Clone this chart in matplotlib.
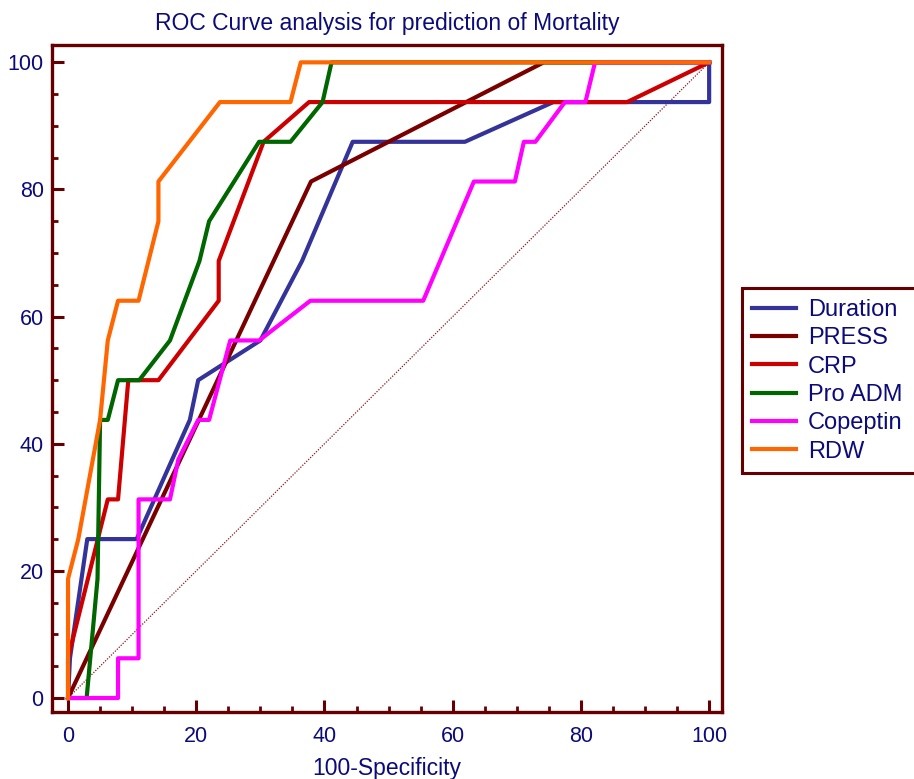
import matplotlib
matplotlib.use("Agg")
import matplotlib.pyplot as plt

# ============================================
# 1. DATA
# ============================================
duration_x = [0, 0.3, 3.0, 10.7, 19.0, 20.3, 30.0, 36.5, 44.4, 61.9, 75.7, 100, 100]
duration_y = [0, 6.25, 25, 25, 43.75, 50, 56.25, 68.75, 87.5, 87.5, 93.75, 93.75, 100]

press_x = [0, 37.9, 74.2, 100]
press_y = [0, 81.25, 100, 100]

crp_x = [0, 0, 6.2, 7.8, 9.4, 14.1, 23.5, 23.5, 30.5, 37.6, 87.2, 100]
crp_y = [0, 6.25, 31.25, 31.25, 50, 50, 62.5, 68.75, 87.5, 93.75, 93.75, 100]

proadm_x = [0, 2.9, 4.6, 5.0, 6.2, 7.8, 11.1, 15.9, 20.5, 22.0, 29.8, 34.7, 39.7, 41.1, 100]
proadm_y = [0, 0, 18.75, 43.75, 43.75, 50, 50, 56.25, 68.75, 75, 87.5, 87.5, 93.75, 100, 100]

copeptin_x = [0, 7.8, 7.8, 11.0, 11.0, 15.9, 17.2, 20.3, 22.0, 25.3, 29.8, 37.8, 55.4,
              63.3, 69.7, 71.1, 72.9, 77.5, 80.7, 82.2, 100]
copeptin_y = [0, 0, 6.25, 6.25, 31.25, 31.25, 37.5, 43.75, 43.75, 56.25, 56.25, 62.5, 62.5,
              81.25, 81.25, 87.5, 87.5, 93.75, 93.75, 100, 100]

rdw_x = [0, 0, 1.6, 5.0, 6.2, 7.8, 11.0, 14.1, 14.1, 23.7, 34.7, 36.3, 100]
rdw_y = [0, 18.75, 25, 43.75, 56.25, 62.5, 62.5, 75, 81.25, 93.75, 93.75, 100, 100]

series_names = ["Duration", "PRESS", "CRP", "Pro ADM", "Copeptin", "RDW"]
series_x = [duration_x, press_x, crp_x, proadm_x, copeptin_x, rdw_x]
series_y = [duration_y, press_y, crp_y, proadm_y, copeptin_y, rdw_y]
series_colors = ["#333399", "#7a0000", "#cc0000", "#006600", "#ff00ff", "#ff6600"]

tick_values = [0, 20, 40, 60, 80, 100]

frame_color = "#660000"
text_color = "#0b0b7a"

# ============================================
# 2. FIGURE
# ============================================
plt.rcParams["font.family"] = ["Liberation Sans", "DejaVu Sans"]

fig = plt.figure(figsize=(9.14, 7.79), dpi=100)
ax = fig.add_axes([0.0569, 0.086, 0.733, 0.856])

# reference diagonal
ax.plot([0, 100], [0, 100], color="#8b1a1a", lw=0.9, ls=(0, (1, 1.2)), zorder=1)

for name, xs, ys, col in zip(series_names, series_x, series_y, series_colors):
    ax.plot(xs, ys, color=col, lw=3.0, label=name, zorder=2)

ax.set_xlim(-2.5, 102)
ax.set_ylim(-2.2, 102.7)

ax.set_xticks(tick_values)
ax.set_yticks(tick_values)
ax.set_xticks(range(5, 100, 5), minor=True)
ax.set_yticks(range(5, 100, 5), minor=True)

ax.tick_params(which="major", direction="in", length=8.5, width=2.2,
               color=frame_color, labelsize=15.5, labelcolor=text_color, pad=6)
ax.tick_params(axis="x", which="major", pad=10)
ax.tick_params(which="minor", direction="in", length=4.3, width=2.0,
               color=frame_color)

for side in ["left", "right", "top", "bottom"]:
    ax.spines[side].set_color(frame_color)
    ax.spines[side].set_linewidth(2.4)

ax.set_title("ROC Curve analysis for prediction of Mortality",
             fontsize=16.5, color=text_color, pad=11)
ax.set_xlabel("100-Specificity", fontsize=16.5, color=text_color, labelpad=7)

# ============================================
# 3. LEGEND (frame runs past the right edge)
# ============================================
leg = fig.legend(loc="upper left", bbox_to_anchor=(0.8115, 0.396, 0.25, 0.234),
                 mode="expand", fontsize=17, handlelength=1.85, handletextpad=0.5,
                 labelspacing=0.27, borderpad=0.45, fancybox=False, framealpha=1,
                 frameon=True, borderaxespad=0)
leg.get_frame().set_edgecolor(frame_color)
leg.get_frame().set_linewidth(2.2)
for txt in leg.get_texts():
    txt.set_color(text_color)

plt.savefig("out.png", dpi=100)
plt.close()
